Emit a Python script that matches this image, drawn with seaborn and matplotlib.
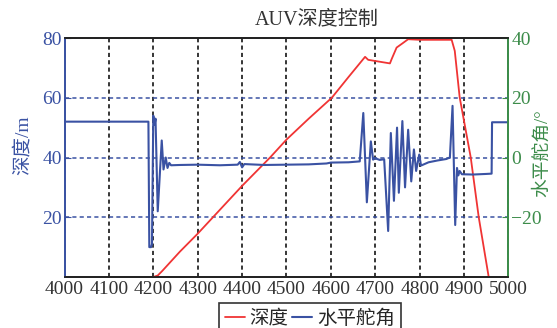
import matplotlib
matplotlib.use("Agg")
import matplotlib.pyplot as plt
import seaborn as sns
import pandas as pd

# ---------------- data ----------------
depth_t = [4200, 4210, 4220, 4260, 4300, 4350, 4400, 4463, 4500, 4550, 4602,
           4640, 4677, 4684, 4733, 4737, 4748, 4763, 4774, 4800, 4850, 4872,
           4879, 4890, 4915, 4933, 4956]
depth = [0, 0.5, 2, 8.5, 14.5, 22.5, 30.5, 40, 46, 53, 60,
         67, 73.7, 72.7, 71.5, 73, 76.8, 78.4, 79.6, 79.4, 79.4, 79.4,
         75.7, 60.2, 40, 20, -0.5]

rudder_t = [4000, 4189, 4191, 4195, 4197, 4200, 4203, 4205, 4210, 4219, 4223,
            4228, 4232, 4236, 4240, 4260, 4300, 4350, 4390, 4395, 4400, 4405,
            4450, 4500, 4550, 4590, 4600, 4640, 4665, 4673, 4681, 4690, 4695,
            4700, 4710, 4720, 4729, 4735, 4742, 4749, 4753, 4761, 4767, 4774,
            4781, 4787, 4792, 4799, 4803, 4820, 4840, 4860, 4868, 4874, 4880,
            4884, 4887, 4890, 4895, 4920, 4950, 4962, 4963, 5000]
rudder = [12, 12, -30, -30, -29, 14, 11, 13, -18, 5.7, -4,
          0, -3.5, -1.8, -2.6, -2.5, -2.4, -2.6, -2.4, -1.5, -3.3, -2.2,
          -2.5, -2.4, -2.3, -2.0, -1.7, -1.6, -1.3, 14.9, -15, 5.4, -0.7,
          -0.3, -0.8, -0.6, -24.6, 8.2, -14.5, 10, -11.8, 12.2, -10, 9.3,
          -8, 2.7, -4.5, 1, -2.7, -1.6, -1.0, -0.5, 0, 17.3, -22.6,
          -3.5, -6, -4.5, -5.6, -5.7, -5.5, -5.4, 11.8, 11.8]

x_ticks = list(range(4000, 5001, 100))
left_ticks = [20, 40, 60, 80]
right_ticks = [-20, 0, 20, 40]

blue = "#3a52a3"
green = "#3c8c4a"
red = "#f03434"

sns.set_style("white")
plt.rcParams["font.family"] = ["Liberation Serif", "Noto Sans CJK SC"]
plt.rcParams["axes.unicode_minus"] = True

df_depth = pd.DataFrame({"t": depth_t, "v": depth})
df_rud = pd.DataFrame({"t": rudder_t, "v": rudder})

fig, ax = plt.subplots(figsize=(5.57, 3.28), dpi=100)
fig.subplots_adjust(left=0.1158, right=0.9129, bottom=0.1555, top=0.8841)
ax2 = ax.twinx()

sns.lineplot(data=df_depth, x="t", y="v", ax=ax, color=red, lw=1.3,
             label="深度", legend=False, zorder=3)
sns.lineplot(data=df_rud, x="t", y="v", ax=ax2, color=blue, lw=1.5,
             label="水平舵角", legend=False, zorder=2)

ax.set_xlim(4000, 5000)
ax.set_ylim(0, 80)
ax2.set_ylim(-40, 40)

ax.set_xticks(x_ticks)
ax.set_yticks(left_ticks)
ax2.set_yticks(right_ticks)
ax.set_xlabel("")
ax.set_ylabel("")
ax2.set_ylabel("")

# short dashes like the reference
ax.xaxis.grid(True, color="black", ls=(0, (2.7, 2.1)), lw=1.1)
ax.yaxis.grid(True, color=blue, ls=(0, (2.7, 2.1)), lw=1.1)
ax.set_axisbelow(True)

ax.tick_params(axis="x", labelsize=14, colors="#333333", direction="in",
               length=4, pad=3)
ax.tick_params(axis="y", labelsize=14, colors=blue, direction="in",
               length=4, pad=2)
ax2.tick_params(axis="y", labelsize=14, colors=green, direction="in",
                length=4, pad=2)

for a in (ax, ax2):
    for s in a.spines.values():
        s.set_linewidth(1.3)
    a.spines["top"].set_color("#222222")
    a.spines["bottom"].set_color("#222222")
    a.spines["left"].set_color(blue)
    a.spines["right"].set_color(green)

fig.text(317 / 557, 1 - 20 / 328, "AUV深度控制", ha="center", va="center",
         fontsize=14.5, color="#333333")
fig.text(23 / 557, 1 - 145 / 328, "深度/m", ha="center", va="center",
         rotation=90, fontsize=14, color=blue)
fig.text(542 / 557, 1 - 153 / 328, "水平舵角/°", ha="center", va="center",
         rotation=90, fontsize=13.5, color=green)

h1, l1 = ax.get_legend_handles_labels()
h2, l2 = ax2.get_legend_handles_labels()
leg = fig.legend(h1 + h2, l1 + l2, loc="upper center",
                 bbox_to_anchor=(310 / 557, 1 - 303 / 328), ncol=2,
                 fontsize=14, frameon=True, fancybox=False,
                 edgecolor="black", handlelength=1.0, handletextpad=0.25,
                 columnspacing=0.2, borderpad=0.3, borderaxespad=0)
leg.get_frame().set_linewidth(1.2)

fig.savefig("out.png", dpi=100)
